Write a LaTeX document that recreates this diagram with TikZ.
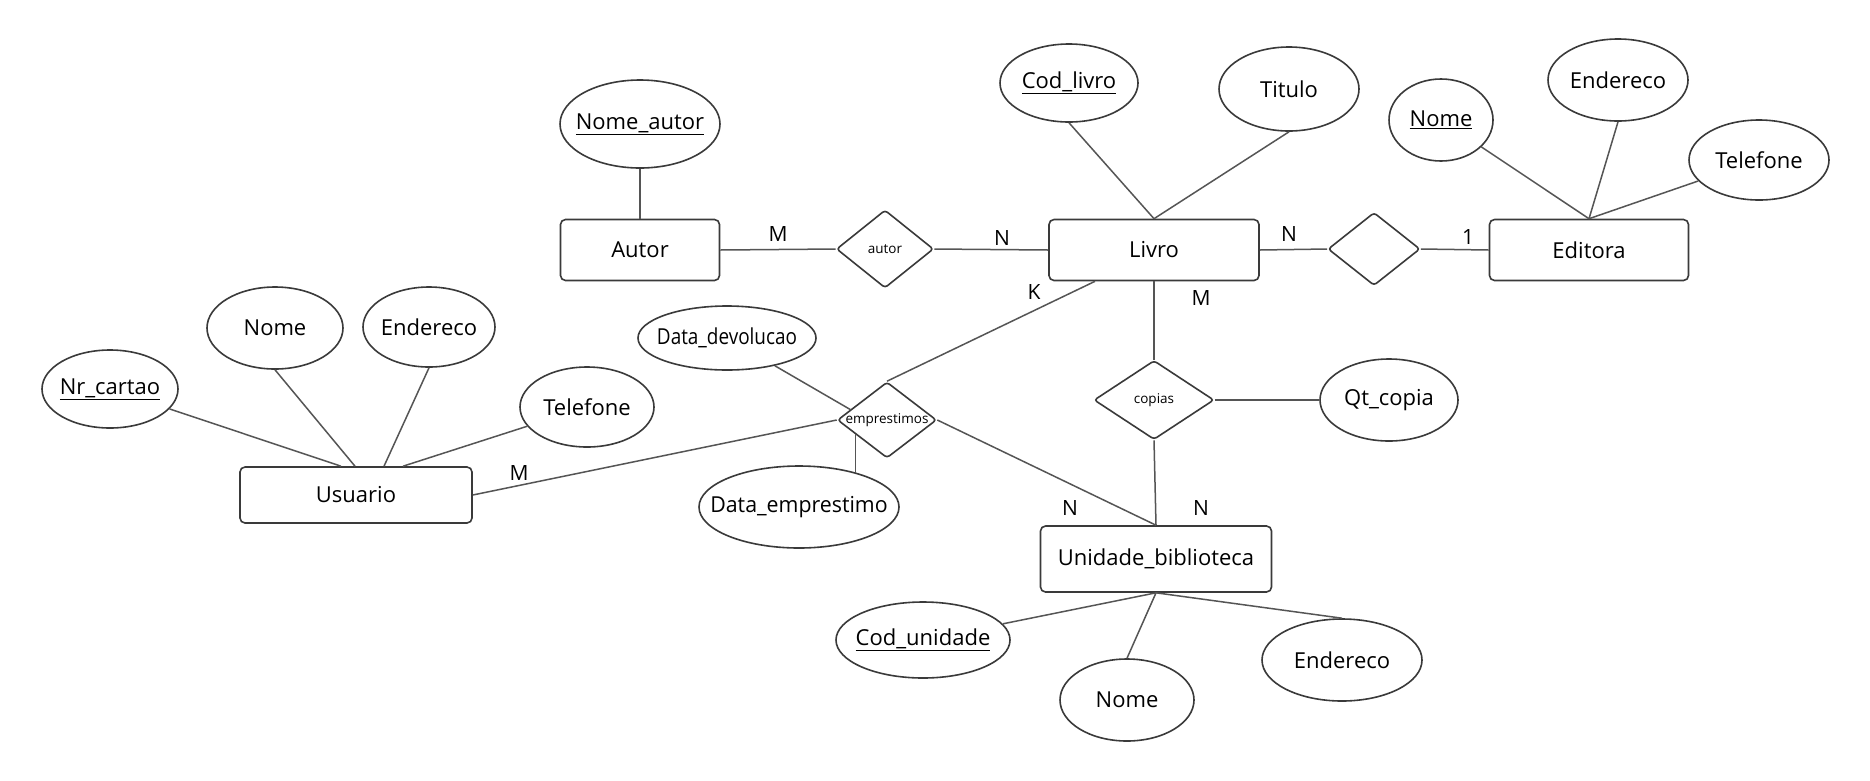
\documentclass[tikz,border=0pt]{standalone}
\usepackage{fontspec}
\setmainfont{Open Sans}
\usetikzlibrary{shapes.geometric,calc}
\definecolor{ln}{HTML}{555555}
\definecolor{bd}{HTML}{3A3A3A}
\newcommand\zb[1]{\makebox[0pt]{#1}}
\begin{document}
\begin{tikzpicture}[x=1pt,y=-1pt,
  ent/.style={draw=bd,line width=1.6pt,rounded corners=5pt,inner sep=0pt,font=\fontsize{22}{26}\selectfont},
  attr/.style={draw=bd,line width=1.6pt,ellipse,inner sep=0pt,font=\fontsize{22}{26}\selectfont},
  rel/.style={draw=bd,line width=1.6pt,diamond,inner sep=0pt,rounded corners=3pt,font=\fontsize{13.5}{15}\selectfont},
  conn/.style={draw=ln,line width=1.5pt},
  card/.style={inner sep=0pt,font=\fontsize{21}{24}\selectfont}]
\useasboundingbox (0,0) rectangle (1870,780);
\fill[white] (0,0) rectangle (1870,780);
% entities
\node[ent,minimum width=159pt,minimum height=61pt] (autor) at (640,250) {Autor};
\node[ent,minimum width=210pt,minimum height=61pt] (livro) at (1154,250) {Livro};
\node[ent,minimum width=199pt,minimum height=61pt] (editora) at (1589,250) {Editora};
\node[ent,minimum width=232pt,minimum height=56pt] (usuario) at (356,495) {Usuario};
\node[ent,minimum width=231pt,minimum height=66pt] (unidade) at (1156,559) {Unidade\_biblioteca};
% relationships
\node[rel,minimum width=97pt,minimum height=78pt] (autorrel) at (885,249) {\zb{autor}};
\node[rel,minimum width=92pt,minimum height=73pt] (editrel) at (1374,249) {};
\node[rel,minimum width=99pt,minimum height=76pt] (emp) at (887,420) {\zb{emprestimos}};
\node[rel,minimum width=120pt,minimum height=79pt] (copias) at (1154,400) {\zb{copias}};
% attributes
\node[attr,minimum width=160pt,minimum height=88pt] (nomeautor) at (640,124) {\zb{\underline{Nome\_autor}}};
\node[attr,minimum width=138pt,minimum height=78pt] (codlivro) at (1069,83) {\zb{\underline{Cod\_livro}}};
\node[attr,minimum width=140pt,minimum height=84pt] (titulo) at (1289,89) {\zb{Titulo}};
\node[attr,minimum width=104pt,minimum height=82pt] (enome) at (1441,120) {\zb{\underline{Nome}}};
\node[attr,minimum width=140pt,minimum height=82pt] (eend) at (1618,80) {\zb{Endereco}};
\node[attr,minimum width=140pt,minimum height=80pt] (etel) at (1759,160) {\zb{Telefone}};
\node[attr,minimum width=136pt,minimum height=78pt] (nrcartao) at (110,389) {\zb{\underline{Nr\_cartao}}};
\node[attr,minimum width=136pt,minimum height=82pt] (unome) at (275,328) {\zb{Nome}};
\node[attr,minimum width=132pt,minimum height=80pt] (uend) at (429,327) {\zb{Endereco}};
\node[attr,minimum width=134pt,minimum height=80pt] (utel) at (587,407) {\zb{Telefone}};
\node[attr,minimum width=178pt,minimum height=64pt] (dd) at (727,338) {\zb{\scalebox{0.86}[1]{Data\_devolucao}}};
\node[attr,minimum width=200pt,minimum height=82pt] (de) at (799,507) {\zb{\scalebox{0.97}[1]{Data\_emprestimo}}};
\node[attr,minimum width=138pt,minimum height=82pt] (qt) at (1389,400) {\zb{Qt\_copia}};
\node[attr,minimum width=174pt,minimum height=76pt] (codun) at (923,640) {\zb{\underline{Cod\_unidade}}};
\node[attr,minimum width=134pt,minimum height=82pt] (bnome) at (1127,700) {\zb{Nome}};
\node[attr,minimum width=160pt,minimum height=82pt] (bend) at (1342,660) {\zb{Endereco}};
% helper coordinates
\coordinate (u1) at ($(usuario.north)+(-15,0)$);
\coordinate (u2) at ($(usuario.north)+(-1,0)$);
\coordinate (u3) at ($(usuario.north)+(28,0)$);
\coordinate (u4) at ($(usuario.north)+(47,0)$);
\coordinate (lk) at ($(livro.south)+(-59,0)$);
\coordinate (e1) at ($(emp.west)!0.27!(emp.north)$);
\coordinate (e2) at ($(emp.west)!0.37!(emp.south)$);
% connectors
\draw[conn] (nomeautor.south) -- (autor.north);
\draw[conn] (autor.east) -- (autorrel.west);
\draw[conn] (autorrel.east) -- (livro.west);
\draw[conn] (codlivro.south) -- (livro.north);
\draw[conn] (titulo.south) -- (livro.north);
\draw[conn] (livro.east) -- (editrel.west);
\draw[conn] (editrel.east) -- (editora.west);
\draw[conn] (enome) -- (editora.north);
\draw[conn] (eend.south) -- (editora.north);
\draw[conn] (etel) -- (editora.north);
\draw[conn] (nrcartao) -- (u1);
\draw[conn] (unome.south) -- (u2);
\draw[conn] (uend.south) -- (u3);
\draw[conn] (utel) -- (u4);
\draw[conn] (usuario.east) -- (emp.west);
\draw[conn] (lk) -- (emp.north);
\draw[conn] (emp.east) -- (unidade.north);
\draw[conn] (dd) -- (e1);
\draw[conn] (e2) -- (e2 |- de.31);
\draw[conn] (livro.south) -- (copias.north);
\draw[conn] (copias.east) -- (qt.west);
\draw[conn] (copias.south) -- (unidade.north);
\draw[conn] (codun) -- (unidade.south);
\draw[conn] (bnome.north) -- (unidade.south);
\draw[conn] (bend.north) -- (unidade.south);
% cardinalities
\node[card] (c1) at (778,234) {M};
\node[card] (c2) at (1002,238) {N};
\node[card] (c3) at (1289,234) {N};
\node[card] (c4) at (1468,237) {1};
\node[card] (c5) at (1034,292) {K};
\node[card] (c6) at (1201,298) {M};
\node[card] (c7) at (519,473) {M};
\node[card] (c8) at (1070,508) {N};
\node[card] (c9) at (1201,508) {N};
\end{tikzpicture}
\end{document}
